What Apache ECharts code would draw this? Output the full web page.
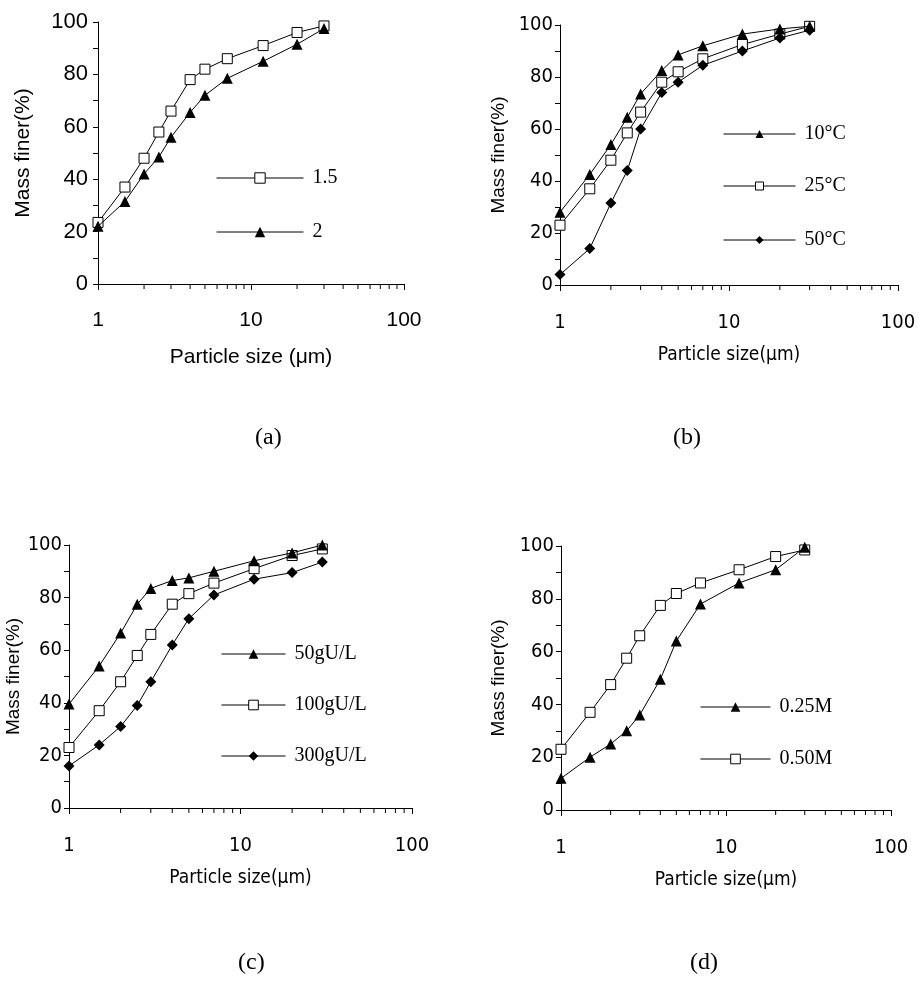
<!DOCTYPE html>
<html>
<head>
<meta charset="utf-8">
<script src="https://cdn.jsdelivr.net/npm/echarts@6/dist/echarts.min.js"></script>
<style>
  body { margin: 0; background: #fff; }
  #chart { width: 919px; height: 990px; }
</style>
</head>
<body>
<div id="chart"></div>
<script>
// particle sizes (um), shared by every panel
const sizes = [1, 1.5, 2, 2.5, 3, 4, 5, 7, 12, 20, 30]
const xTicks = [1, 10, 100]
const minorTicks = [2, 3, 4, 5, 6, 7, 8, 9, 20, 30, 40, 50, 60, 70, 80, 90]

// (a)
const a_15 = [23.5, 37, 48, 58, 66, 78, 82, 86, 91, 96, 98.5]
const a_2 = [22, 31.5, 42, 48.5, 56, 65.5, 72, 78.5, 85, 91.5, 97.5]
// (b)
const b_10C = [28, 42.5, 54, 64.5, 73.5, 82.5, 88.5, 92, 96.5, 98.5, 99.5]
const b_25C = [23, 37, 48, 58.5, 66.5, 78, 82, 87, 92.5, 96.5, 99.5]
const b_50C = [4, 14, 31.5, 44, 60, 74, 78, 84.5, 90, 95, 98]
// (c)
const c_50 = [39.5, 54, 66.5, 77.5, 83.5, 86.5, 87.5, 90, 94, 97, 100]
const c_100 = [23, 37, 48, 58, 66, 77.5, 81.5, 85.5, 91, 96, 98.5]
const c_300 = [16, 24, 31, 39, 48, 62, 72, 81, 87, 89.5, 93.5]
// (d)
const d_025 = [12, 20, 25, 30, 36, 49.5, 64, 78, 86, 91, 99.5]
const d_050 = [23, 37, 47.5, 57.5, 66, 77.5, 82, 86, 91, 96, 98.5]

const panelLabels = ['(a)', '(b)', '(c)', '(d)']

const SANS = '"Liberation Sans", Arial, sans-serif'
const NARROW = '"Liberation Sans Narrow", "DejaVu Sans Condensed", "Liberation Sans", sans-serif'
const SERIF = '"Liberation Serif", "Times New Roman", serif'

const markers = {
  square: { symbol: 'rect', symbolSize: 10, itemStyle: { color: '#fff', borderColor: '#000', borderWidth: 1 } },
  triangle: { symbol: 'triangle', symbolSize: 11, itemStyle: { color: '#000' } },
  diamond: { symbol: 'diamond', symbolSize: 11, itemStyle: { color: '#000' } }
}

function pairs (ys) {
  return sizes.map((x, i) => [x, ys[i]])
}

// one panel = grid + axes; layout
const panels = [
  { grid: { left: 98, top: 22, width: 306, height: 262 }, font: SANS, xName: 'Particle size (\u03bcm)', yGap: 64, labelX: 270, labelY: 440 },
  { grid: { left: 560, top: 25, width: 338, height: 260 }, font: NARROW, xName: 'Particle size(\u03bcm)', yGap: 52, labelX: 688, labelY: 440 },
  { grid: { left: 69, top: 545, width: 343, height: 263 }, font: NARROW, xName: 'Particle size(\u03bcm)', yGap: 46, labelX: 253, labelY: 965 },
  { grid: { left: 561, top: 546, width: 330, height: 264 }, font: NARROW, xName: 'Particle size(\u03bcm)', yGap: 53, labelX: 705, labelY: 965 }
]

const lineSeries = [
  { name: '1.5', panel: 0, data: a_15, mark: 'square' },
  { name: '2', panel: 0, data: a_2, mark: 'triangle' },
  { name: '10\u00b0C', panel: 1, data: b_10C, mark: 'triangle' },
  { name: '25\u00b0C', panel: 1, data: b_25C, mark: 'square' },
  { name: '50\u00b0C', panel: 1, data: b_50C, mark: 'diamond' },
  { name: '50gU/L', panel: 2, data: c_50, mark: 'triangle' },
  { name: '100gU/L', panel: 2, data: c_100, mark: 'square' },
  { name: '300gU/L', panel: 2, data: c_300, mark: 'diamond' },
  { name: '0.25M', panel: 3, data: d_025, mark: 'triangle' },
  { name: '0.50M', panel: 3, data: d_050, mark: 'square' }
]

// legend rows: line start x, line width, row centre y, icon height
const legendRows = {
  '1.5': [211, 87, 174, 13],
  '2': [211, 87, 228, 13],
  '10\u00b0C': [718, 72, 130, 10],
  '25\u00b0C': [718, 72, 182, 10],
  '50\u00b0C': [718, 72, 236, 10],
  '50gU/L': [216, 64, 650, 12],
  '100gU/L': [216, 64, 701, 12],
  '300gU/L': [216, 64, 752, 12],
  '0.25M': [695, 70, 703, 12],
  '0.50M': [695, 70, 755, 12]
}

let grids = []
let xAxes = []
let yAxes = []
let series = []
let graphics = []

panels.forEach(function (p, i) {
  let big = i === 0
  grids.push(p.grid)
  xAxes.push({
    type: 'log',
    logBase: 10,
    gridIndex: i,
    min: 1,
    max: 100,
    name: p.xName,
    nameLocation: 'middle',
    nameGap: big ? 63 : 61,
    nameTextStyle: { fontFamily: p.font, fontSize: big ? 21 : 19, color: '#000' },
    axisLine: { lineStyle: { color: '#000', width: 1 } },
    axisTick: { length: 6, lineStyle: { color: '#000' } },
    axisLabel: { margin: big ? 26 : 28, fontFamily: p.font, fontSize: big ? 21 : 20, color: '#000',
      customValues: xTicks, formatter: v => String(Math.round(v)) },
    splitLine: { show: false }
  })
  yAxes.push({
    type: 'value',
    gridIndex: i,
    min: 0,
    max: 100,
    interval: 20,
    name: 'Mass finer(%)',
    nameLocation: 'middle',
    nameRotate: 90,
    nameGap: p.yGap,
    nameTextStyle: { fontFamily: SANS, fontSize: big ? 21 : 19, color: '#000' },
    axisLine: { show: true, lineStyle: { color: '#000', width: 1 } },
    axisTick: { show: true, length: 5, lineStyle: { color: '#000' } },
    minorTick: { show: true, splitNumber: 2, length: 5, lineStyle: { color: '#000' } },
    axisLabel: { margin: big ? 10 : 7, fontFamily: p.font, fontSize: big ? 22 : 20, color: '#000' },
    splitLine: { show: false }
  })
  // minor log ticks under the x axis
  series.push({
    type: 'custom',
    xAxisIndex: i,
    yAxisIndex: i,
    silent: true,
    clip: false,
    data: minorTicks.map(v => [v, 0]),
    renderItem: function (params, api) {
      let pt = api.coord([api.value(0), 0])
      return {
        type: 'line',
        shape: { x1: pt[0], y1: pt[1], x2: pt[0], y2: pt[1] + 5 },
        style: { stroke: '#000', lineWidth: 1 }
      }
    }
  })
  graphics.push({
    type: 'text',
    left: p.labelX - 15,
    top: p.labelY - 14,
    style: { text: panelLabels[i], font: '24px ' + SERIF, fill: '#000' }
  })
})

let legends = []
lineSeries.forEach(function (s) {
  let m = markers[s.mark]
  series.push({
    name: s.name,
    type: 'line',
    xAxisIndex: s.panel,
    yAxisIndex: s.panel,
    data: pairs(s.data),
    symbol: m.symbol,
    symbolSize: m.symbolSize,
    itemStyle: m.itemStyle,
    lineStyle: { color: '#000', width: 1 },
    z: s.mark === 'square' ? 3 : 4
  })
  let row = legendRows[s.name]
  legends.push({
    data: [s.name],
    left: row[0],
    top: row[2] - 11,
    itemWidth: row[1],
    itemHeight: row[3],
    selectedMode: false,
    lineStyle: { width: 1 },
    itemStyle: { borderWidth: 1 },
    textStyle: { fontFamily: SERIF, fontSize: 20, color: '#000', padding: [0, 0, 0, 4] }
  })
})

let myChart = echarts.init(document.getElementById('chart'))
myChart.setOption({
  backgroundColor: '#fff',
  animation: false,
  grid: grids,
  xAxis: xAxes,
  yAxis: yAxes,
  legend: legends,
  series: series,
  graphic: graphics
})
</script>
</body>
</html>
